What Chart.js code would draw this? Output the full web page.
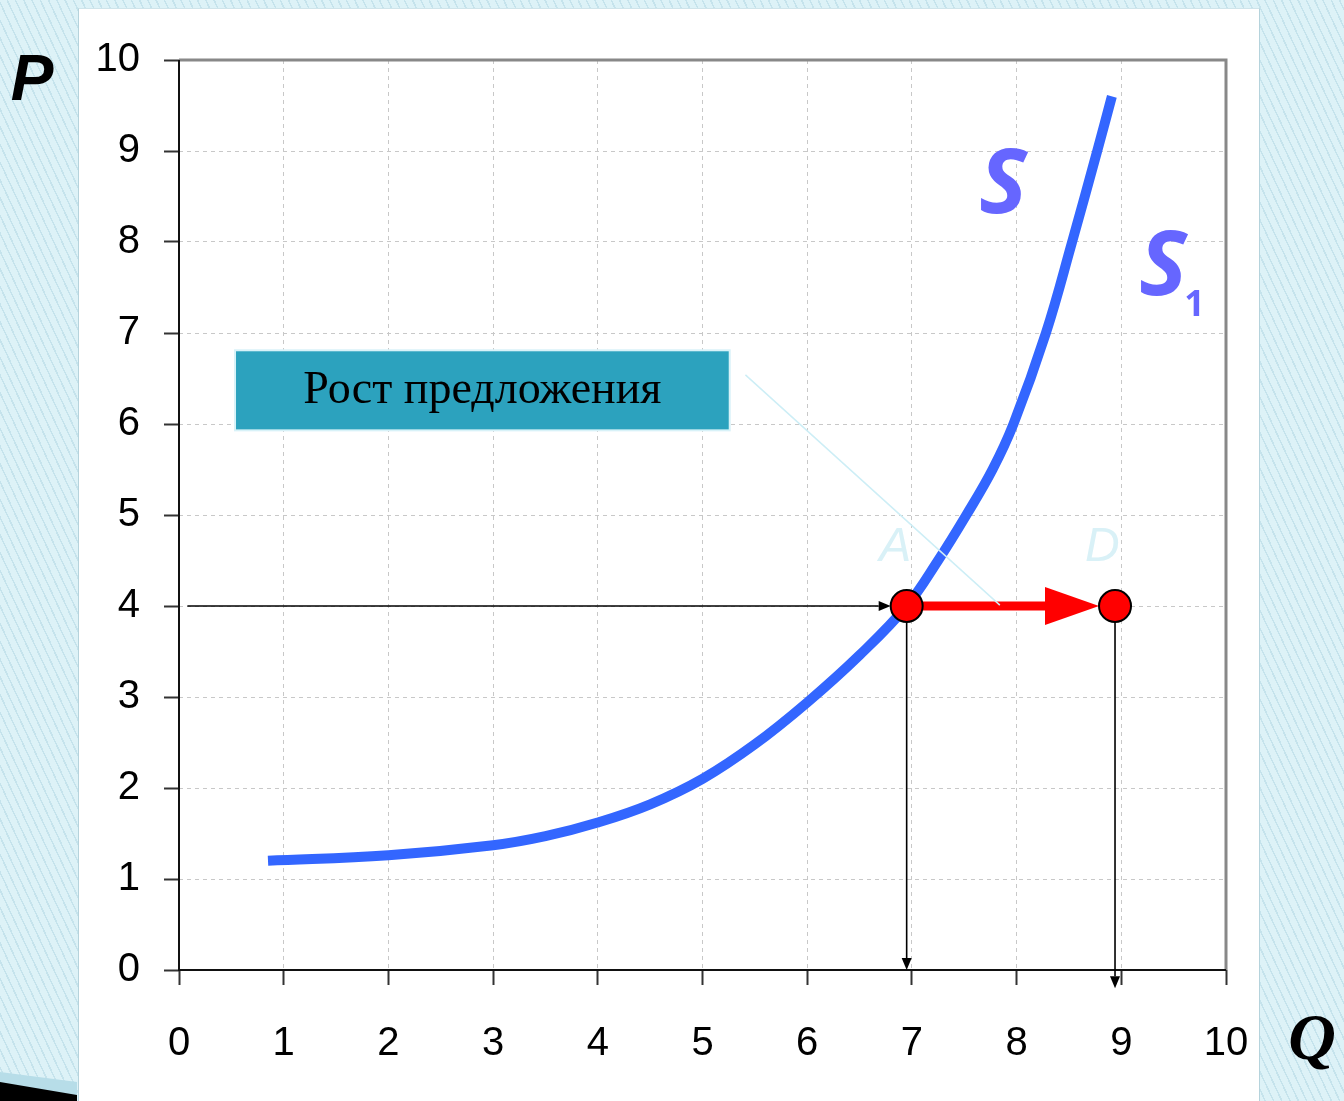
<!DOCTYPE html>
<html><head><meta charset="utf-8">
<script src="https://cdn.jsdelivr.net/npm/chart.js@4"></script>
<style>
html,body{margin:0;padding:0;width:1344px;height:1101px;overflow:hidden;}
body{background:#dcf1f6 repeating-linear-gradient(65deg, #ddf2f7 0px, #ddf2f7 6px, #c5e3ec 6px, #c5e3ec 7.5px);position:relative;}
#panel{position:absolute;left:78px;top:8px;width:1180px;height:1100px;background:#fff;border-left:1px solid #b5d3dc;border-top:1px solid #cfe4ea;border-right:1px solid #b5d3dc;}
#wrap{position:absolute;left:0;top:0;width:1344px;height:1101px;}
</style></head><body>
<div id="panel"></div>
<div id="wrap"><canvas id="c" width="1344" height="1101"></canvas></div>
<script>
// ---- data ----
const supplyQ = [0.85, 2.0, 3.0, 3.5, 4.0, 4.5, 5.0, 5.5, 6.0, 6.5, 6.95, 7.25, 7.52, 7.77, 7.97, 8.28, 8.53, 8.77, 8.91];
const supplyP = [1.2, 1.26, 1.37, 1.47, 1.62, 1.82, 2.1, 2.48, 2.94, 3.46, 4.0, 4.5, 5.0, 5.5, 6.0, 7.0, 8.0, 9.0, 9.6];
const axisTicks = [0, 1, 2, 3, 4, 5, 6, 7, 8, 9, 10];
const pointA = [6.95, 4.0];
const pointD = [8.94, 4.0];
const guideStartQ = [0.08];
const pointLabels = ['A', 'D'];
const boxText = ['Рост предложения'];
const curveLabels = ['S', 'S', '1'];
const axisTitles = ['P', 'Q'];

const overlay = {
  id: 'overlay',
  beforeDatasetsDraw(chart) {
    const {ctx, chartArea: ca} = chart;
    ctx.save();
    ctx.setLineDash([]);
    ctx.strokeStyle = '#888';
    ctx.lineWidth = 3;
    ctx.beginPath();
    ctx.moveTo(ca.left, ca.top); ctx.lineTo(ca.right, ca.top); ctx.lineTo(ca.right, ca.bottom);
    ctx.stroke();
    ctx.strokeStyle = '#111';
    ctx.lineWidth = 2;
    ctx.beginPath();
    ctx.moveTo(ca.left, ca.top); ctx.lineTo(ca.left, ca.bottom); ctx.lineTo(ca.right, ca.bottom);
    ctx.stroke();
    ctx.restore();
  },
  afterDatasetsDraw(chart) {
    const {ctx, scales: {x, y}, chartArea: ca} = chart;
    const X = v => x.getPixelForValue(v), Y = v => y.getPixelForValue(v);
    ctx.save();
    ctx.setLineDash([]);

    function arrow(x1, y1, x2, y2, w, head, hw, color) {
      const ang = Math.atan2(y2 - y1, x2 - x1);
      const bx = x2 - head * Math.cos(ang), by = y2 - head * Math.sin(ang);
      ctx.strokeStyle = color; ctx.fillStyle = color; ctx.lineWidth = w;
      ctx.beginPath(); ctx.moveTo(x1, y1); ctx.lineTo(bx, by); ctx.stroke();
      ctx.beginPath();
      ctx.moveTo(x2, y2);
      ctx.lineTo(bx + hw * Math.sin(ang), by - hw * Math.cos(ang));
      ctx.lineTo(bx - hw * Math.sin(ang), by + hw * Math.cos(ang));
      ctx.closePath(); ctx.fill();
    }
    const ax = X(pointA[0]), ay = Y(pointA[1]);
    const dx = X(pointD[0]), dy = Y(pointD[1]);
    const r = 16;
    // black guide arrows
    arrow(X(guideStartQ[0]), ay, ax - r, ay, 1.6, 12, 5, '#000');
    arrow(ax, ay + r, ax, Y(0), 1.6, 12, 5, '#000');
    arrow(dx, dy + r, dx, Y(-0.2), 1.6, 12, 5, '#000');
    // red shift arrow
    arrow(ax + r, ay, dx - r, dy, 9, 54, 19, '#ff0000');
    // callout line
    ctx.strokeStyle = '#cdeef6'; ctx.lineWidth = 1.5;
    ctx.beginPath(); ctx.moveTo(X(5.41), Y(6.54)); ctx.lineTo(X(7.84), Y(4.01)); ctx.stroke();
    // dots
    [[ax, ay], [dx, dy]].forEach(([px, py]) => {
      ctx.beginPath(); ctx.arc(px, py, r, 0, Math.PI * 2);
      ctx.fillStyle = '#ff0000'; ctx.fill();
      ctx.lineWidth = 2; ctx.strokeStyle = '#000'; ctx.stroke();
    });
    // A, D labels
    ctx.fillStyle = '#d9f1f7';
    ctx.font = 'italic 48px "Liberation Sans"';
    ctx.textAlign = 'center'; ctx.textBaseline = 'middle';
    ctx.fillText(pointLabels[0], X(6.84), Y(4.64));
    ctx.fillText(pointLabels[1], X(8.82), Y(4.64));
    // text box
    const bx1 = X(0.535), bx2 = X(5.26), by1 = Y(6.81), by2 = Y(5.93);
    ctx.fillStyle = '#2ca2be';
    ctx.fillRect(bx1, by1, bx2 - bx1, by2 - by1);
    ctx.strokeStyle = '#d8f2f8'; ctx.lineWidth = 2;
    ctx.strokeRect(bx1, by1, bx2 - bx1, by2 - by1);
    ctx.fillStyle = '#000';
    ctx.font = '46px "Liberation Serif"';
    ctx.fillText(boxText[0], (bx1 + bx2) / 2, (by1 + by2) / 2 + 1);
    // S labels
    ctx.fillStyle = '#6666ff';
    ctx.font = 'italic bold 90px "Open Sans"';
    ctx.fillText(curveLabels[0], X(7.87), Y(8.6));
    ctx.fillText(curveLabels[1], X(9.40), Y(7.70));
    ctx.font = 'bold 36px "Open Sans"';
    ctx.fillText(curveLabels[2], X(9.70), Y(7.30));
    // axis titles
    ctx.fillStyle = '#000';
    ctx.font = 'italic bold 64px "Liberation Sans"';
    ctx.fillText(axisTitles[0], ca.left - 147, ca.top + 22);
    ctx.font = 'italic bold 66px "Liberation Serif"';
    ctx.fillText(axisTitles[1], ca.right + 86, ca.bottom + 72);
    // bottom-left decoration
    ctx.fillStyle = '#b7dde8';
    ctx.beginPath(); ctx.moveTo(0, 1072); ctx.lineTo(77, 1082); ctx.lineTo(77, 1101); ctx.lineTo(0, 1101); ctx.closePath(); ctx.fill();
    ctx.fillStyle = '#000';
    ctx.beginPath(); ctx.moveTo(0, 1082); ctx.lineTo(77, 1095); ctx.lineTo(77, 1101); ctx.lineTo(0, 1101); ctx.closePath(); ctx.fill();
    ctx.restore();
  }
};

const tickFont = {family: '"Liberation Sans"', size: 40};
new Chart(document.getElementById('c'), {
  type: 'scatter',
  data: {
    datasets: [{
      data: supplyQ.map((q, i) => ({x: q, y: supplyP[i]})),
      showLine: true,
      borderColor: '#3366ff',
      borderWidth: 10,
      pointRadius: 0,
      tension: 0.4,
      borderCapStyle: 'butt',
      fill: false
    }]
  },
  options: {
    responsive: false,
    animation: false,
    events: [],
    layout: {padding: {top: 60, right: 118, left: 0, bottom: 0}},
    plugins: {legend: {display: false}, tooltip: {enabled: false}},
    scales: {
      x: {
        type: 'linear', min: axisTicks[0], max: axisTicks[axisTicks.length - 1],
        afterBuildTicks(s) { s.ticks = axisTicks.map(v => ({value: v})); },
        afterFit(s) { s.height = 131; },
        ticks: {color: '#000', font: tickFont, padding: 35, maxRotation: 0},
        grid: {color: '#c8c8c8', lineWidth: 1, tickColor: '#333', tickLength: 15, tickWidth: 2, tickBorderDash: []},
        border: {display: false, dash: [4, 4]}
      },
      y: {
        type: 'linear', min: axisTicks[0], max: axisTicks[axisTicks.length - 1],
        afterBuildTicks(s) { s.ticks = axisTicks.map(v => ({value: v})); },
        afterFit(s) { s.width = 179; },
        ticks: {color: '#000', font: tickFont, padding: 24},
        grid: {color: '#c8c8c8', lineWidth: 1, tickColor: '#333', tickLength: 15, tickWidth: 2, tickBorderDash: []},
        border: {display: false, dash: [4, 4]}
      }
    }
  },
  plugins: [overlay]
});
</script>
</body></html>
